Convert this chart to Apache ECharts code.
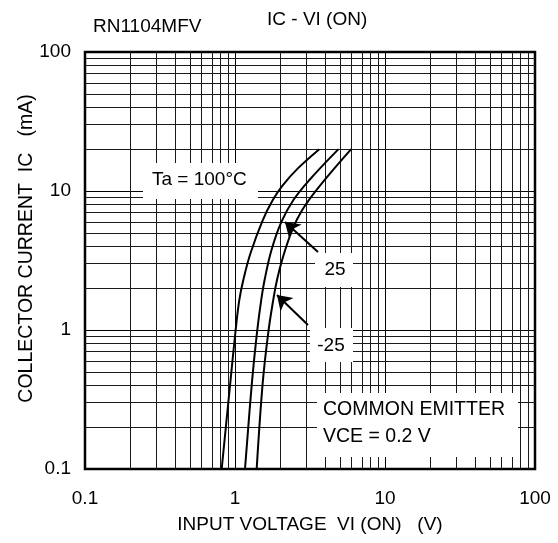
<!DOCTYPE html>
<html>
<head>
<meta charset="utf-8">
<script src="https://cdn.jsdelivr.net/npm/echarts@6/dist/echarts.min.js"></script>
<style>
  html, body { margin: 0; padding: 0; background: #fff; }
  #chart { width: 558px; height: 543px; }
</style>
</head>
<body>
<div id="chart"></div>
<script>
// Axis tick labels (log decades)
const xTickLabels = ['0.1', '1', '10', '100'];
const yTickLabels = ['0.1', '1', '10', '100'];
// Minor grid multipliers inside each decade
const minorSteps = [2, 3, 4, 5, 6, 7, 8, 9];
const xDecades = [0.1, 1, 10];
const yDecades = [0.1, 1, 10];

// IC - VI(ON) characteristics, VI in volts, IC in mA
const vi100 = [0.815, 0.930, 1.005, 1.068, 1.136, 1.27, 1.532, 1.786, 2.067, 2.634, 3.65];
const ic100 = [0.1, 0.416, 0.951, 1.64, 2.29, 3.58, 6.18, 8.61, 10.9, 14.6, 20];

const vi25 = [1.166, 1.296, 1.40, 1.495, 1.575, 1.751, 2.035, 2.451, 3.133, 4.9];
const ic25 = [0.1, 0.416, 0.951, 1.64, 2.29, 3.76, 5.98, 8.61, 12.0, 20];

const viM25 = [1.395, 1.530, 1.665, 1.798, 1.905, 2.089, 2.406, 2.805, 3.575, 5.95];
const icM25 = [0.1, 0.416, 0.951, 1.64, 2.29, 3.35, 5.24, 7.30, 10.5, 20];

// Pointer arrows for the 25 and -25 curve labels: [tail, head] in (VI, IC)
const arrow25 = [[3.575, 3.64], [2.154, 5.98]];
const arrowM25 = [[3.067, 1.086], [1.905, 1.786]];

const FONT = '"Liberation Sans", Arial, sans-serif';
const pairs = (xs, ys) => xs.map((x, i) => [x, ys[i]]);

const minorX = [];
xDecades.forEach(d => minorSteps.forEach(m => minorX.push({ xAxis: +(d * m).toPrecision(3) })));
const minorY = [];
yDecades.forEach(d => minorSteps.forEach(m => minorY.push({ yAxis: +(d * m).toPrecision(3) })));

const labelFor = (labels) => (v) => labels[Math.round(Math.log10(v)) + 1] || '';

const curveStyle = { color: '#000', width: 2 };

const chart = echarts.init(document.getElementById('chart'), null, { renderer: 'canvas' });

chart.setOption({
  animation: false,
  backgroundColor: '#fff',
  textStyle: { fontFamily: FONT },
  title: [
    { text: 'RN1104MFV', left: 88, top: 12, textStyle: { fontFamily: FONT, fontSize: 19, fontWeight: 'normal', color: '#000' } },
    { text: 'IC - VI (ON)', left: 262, top: 5, textStyle: { fontFamily: FONT, fontSize: 19, fontWeight: 'normal', color: '#000' } }
  ],
  grid: {
    left: 85, top: 52, width: 450, height: 417,
    show: true, borderColor: '#000', borderWidth: 2.5, backgroundColor: 'transparent'
  },
  xAxis: {
    type: 'log', logBase: 10, min: 0.1, max: 100,
    name: 'INPUT VOLTAGE  VI (ON)   (V)',
    nameLocation: 'middle', nameGap: 46,
    nameTextStyle: { fontFamily: FONT, fontSize: 19, color: '#000' },
    axisLine: { show: false },
    axisTick: { show: false },
    axisLabel: { margin: 20, fontFamily: FONT, fontSize: 19, color: '#000', formatter: labelFor(xTickLabels) },
    splitLine: { show: true, lineStyle: { color: '#000', width: 1 } }
  },
  yAxis: {
    type: 'log', logBase: 10, min: 0.1, max: 100,
    name: 'COLLECTOR CURRENT  IC   (mA)',
    nameLocation: 'middle', nameGap: 48, nameMoveOverlap: false,
    nameTextStyle: { fontFamily: FONT, fontSize: 19.5, color: '#000', padding: [0, 0, 0, 24] },
    axisLine: { show: false },
    axisTick: { show: false },
    axisLabel: { margin: 14, fontFamily: FONT, fontSize: 19, color: '#000', formatter: labelFor(yTickLabels) },
    splitLine: { show: true, lineStyle: { color: '#000', width: 1 } }
  },
  series: [
    {
      name: 'minor grid', type: 'line', data: [[0.1, 0.1]], symbol: 'none', silent: true,
      lineStyle: { width: 0 }, z: 1,
      markLine: {
        silent: true, symbol: 'none', label: { show: false },
        lineStyle: { color: '#1a1a1a', width: 1, type: 'solid' },
        data: minorX.concat(minorY)
      }
    },
    { name: 'Ta = 100°C', type: 'line', data: pairs(vi100, ic100), smooth: 0.4, symbol: 'none', lineStyle: curveStyle, z: 5 },
    { name: '25', type: 'line', data: pairs(vi25, ic25), smooth: 0.4, symbol: 'none', lineStyle: curveStyle, z: 5 },
    { name: '-25', type: 'line', data: pairs(viM25, icM25), smooth: 0.4, symbol: 'none', lineStyle: curveStyle, z: 5 },
    {
      name: 'pointers', type: 'line', data: [[0.1, 0.1]], symbol: 'none', silent: true,
      lineStyle: { width: 0 }, z: 20,
      markLine: {
        silent: true, symbol: ['none', 'arrow'], symbolSize: 14, label: { show: false },
        itemStyle: { color: '#000' },
        lineStyle: { color: '#000', width: 2, type: 'solid' },
        data: [
          [{ coord: arrow25[0] }, { coord: arrow25[1] }],
          [{ coord: arrowM25[0] }, { coord: arrowM25[1] }]
        ]
      }
    }
  ],
  graphic: [
    { type: 'rect', z: 10, shape: { x: 143, y: 163, width: 115, height: 36 }, style: { fill: '#fff' } },
    { type: 'text', z: 11, x: 152, y: 180, style: { text: 'Ta = 100°C', font: '19px ' + FONT, fill: '#000', align: 'left', verticalAlign: 'middle' } },
    { type: 'rect', z: 10, shape: { x: 315, y: 253, width: 38, height: 34 }, style: { fill: '#fff' } },
    { type: 'text', z: 11, x: 335, y: 270, style: { text: '25', font: '19px ' + FONT, fill: '#000', align: 'center', verticalAlign: 'middle' } },
    { type: 'rect', z: 10, shape: { x: 310, y: 328, width: 43, height: 34 }, style: { fill: '#fff' } },
    { type: 'text', z: 11, x: 331, y: 346, style: { text: '-25', font: '19px ' + FONT, fill: '#000', align: 'center', verticalAlign: 'middle' } },
    { type: 'rect', z: 10, shape: { x: 317, y: 393, width: 201, height: 64 }, style: { fill: '#fff' } },
    { type: 'text', z: 11, x: 323, y: 410, style: { text: 'COMMON EMITTER', font: '19.5px ' + FONT, fill: '#000', align: 'left', verticalAlign: 'middle' } },
    { type: 'text', z: 11, x: 323, y: 437, style: { text: 'VCE = 0.2 V', font: '19.5px ' + FONT, fill: '#000', align: 'left', verticalAlign: 'middle' } }
  ]
});
</script>
</body>
</html>
